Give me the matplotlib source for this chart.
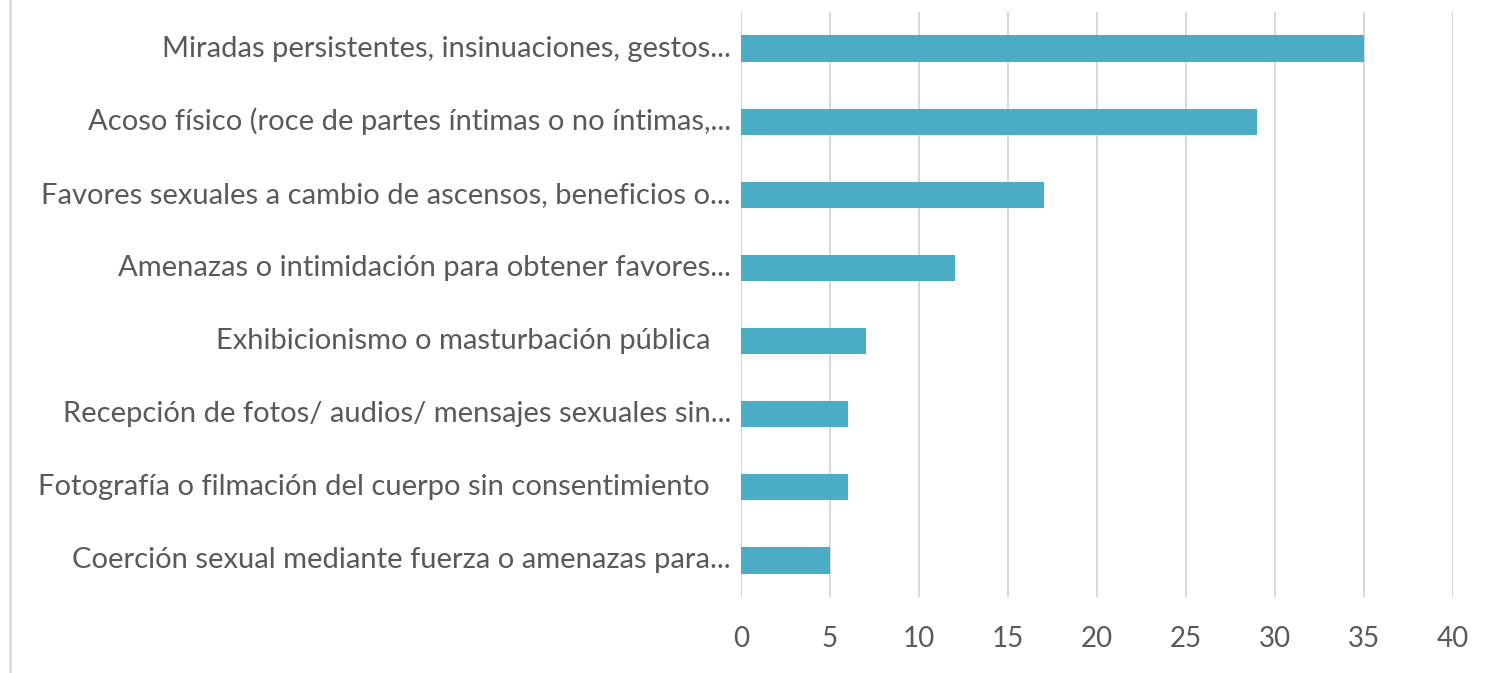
import matplotlib
matplotlib.use("Agg")
import matplotlib.pyplot as plt
from matplotlib.lines import Line2D

categories = [
    "Miradas persistentes, insinuaciones, gestos...",
    "Acoso físico (roce de partes íntimas o no íntimas,...",
    "Favores sexuales a cambio de ascensos, beneficios o...",
    "Amenazas o intimidación para obtener favores...",
    "Exhibicionismo o masturbación pública",
    "Recepción de fotos/ audios/ mensajes sexuales sin...",
    "Fotografía o filmación del cuerpo sin consentimiento",
    "Coerción sexual mediante fuerza o amenazas para...",
]
values = [35, 29, 17, 12, 7, 6, 6, 5]
xticks = [0, 5, 10, 15, 20, 25, 30, 35, 40]

plt.rcParams['font.family'] = ['Lato', 'DejaVu Sans']
text_color = '#595959'
bar_color = '#4BACC6'
grid_color = '#D9D9D9'

W, H = 1496, 673
fig = plt.figure(figsize=(W/100, H/100), dpi=100)
ax = fig.add_axes([741/W, 1 - 597/H, (1453-741)/W, (597-12)/H])

y = list(range(len(categories)))
ax.barh(y, values, height=0.36, color=bar_color, zorder=3)
ax.set_ylim(len(categories) - 0.5, -0.5)
ax.set_xlim(0, 40)
ax.set_xticks(xticks)
ax.set_xticklabels([str(t) for t in xticks], fontsize=20, color=text_color)
ax.set_yticks(y)
ax.set_yticklabels([])
for i, c in enumerate(categories):
    xoff = 10 if c.endswith("...") else 31
    ax.annotate(c, xy=(0, i), xycoords=('axes fraction', 'data'),
                xytext=(-xoff, 0), textcoords='offset pixels',
                ha='right', va='center', fontsize=21, color=text_color)
ax.tick_params(axis='both', length=0)
ax.tick_params(axis='x', pad=21)
ax.grid(axis='x', color=grid_color, linewidth=1.5, zorder=0)
for s in ax.spines.values():
    s.set_visible(False)

fig.add_artist(Line2D([10/W, 10/W], [0, 1], color=grid_color, linewidth=2,
                      transform=fig.transFigure))

fig.savefig("out.png", dpi=100)
